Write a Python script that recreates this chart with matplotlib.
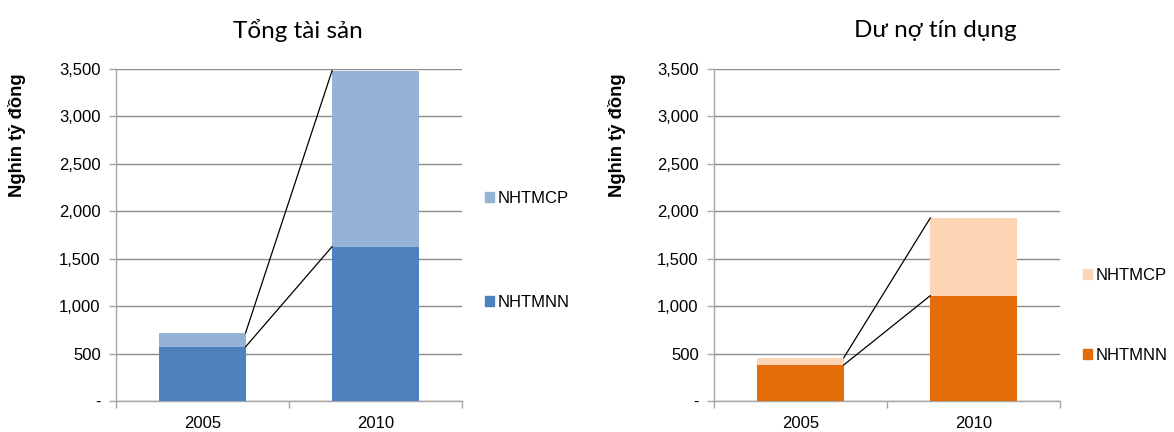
import numpy as np
import matplotlib
matplotlib.use("Agg")
import matplotlib.pyplot as plt
from matplotlib.ticker import FuncFormatter
from matplotlib.patches import Patch

plt.rcParams['font.family'] = ['Liberation Sans', 'DejaVu Sans']

years = ['2005', '2010']
series = ['NHTMNN', 'NHTMCP']

# Tổng tài sản (nghìn tỷ đồng)
assets_nn = [572, 1627]
assets_cp = [148, 1855]

# Dư nợ tín dụng (nghìn tỷ đồng)
credit_nn = [380, 1110]
credit_cp = [76, 819]

titles = ['Tổng tài sản', 'Dư nợ tín dụng']
ylabel = 'Nghin tỷ đồng'

blue = ['#4F81BD', '#95B3D7']
orange = ['#E36C09', '#FCD5B5']

FS = 12


def fmt(v, pos):
    return '-' if v == 0 else f'{int(v):,}'


def draw_panel(ax, nn, cp, colors):
    x = np.arange(len(years))
    w = 0.5
    ax.bar(x, nn, w, color=colors[0], zorder=3)
    ax.bar(x, cp, w, bottom=nn, color=colors[1], zorder=3)
    # series lines between stacks
    tot = np.array(nn) + np.array(cp)
    for lev in (np.array(nn), tot):
        ax.plot([x[0] + w / 2, x[1] - w / 2], [lev[0], lev[1]],
                color='black', lw=0.9, zorder=4)
    ax.set_xlim(-0.5, 1.5)
    ax.set_ylim(0, 3500)
    ax.set_yticks(np.arange(0, 3501, 500))
    ax.yaxis.set_major_formatter(FuncFormatter(fmt))
    ax.set_xticks(x)
    ax.set_xticklabels(years)
    ax.set_xticks([-0.5, 0.5, 1.5], minor=True)
    ax.tick_params(axis='x', which='major', length=0, pad=11, labelsize=FS)
    ax.tick_params(axis='x', which='minor', length=5, color='#A6A6A6', width=1)
    ax.tick_params(axis='y', length=5, color='#A6A6A6', width=1, pad=6, labelsize=FS)
    ax.grid(axis='y', color='#8C8C8C', lw=1, zorder=0)
    for s in ('top', 'right'):
        ax.spines[s].set_visible(False)
    for s in ('left', 'bottom'):
        ax.spines[s].set_color('#A6A6A6')
        ax.spines[s].set_linewidth(1)
    ax.set_ylabel(ylabel, fontweight='bold', fontsize=13.2)


fig = plt.figure(figsize=(11.74, 4.32), dpi=100)
ax1 = fig.add_axes([0.0988, 0.0718, 0.2945, 0.7685])
ax2 = fig.add_axes([0.6082, 0.0718, 0.2947, 0.7685])

draw_panel(ax1, assets_nn, assets_cp, blue)
draw_panel(ax2, credit_nn, credit_cp, orange)
ax1.yaxis.set_label_coords(-0.26, 0.80)
ax2.yaxis.set_label_coords(-0.255, 0.80)

fig.text(0.254, 0.930, titles[0], ha='center', va='center', fontsize=17.5,
         family=['Lato', 'DejaVu Sans'])
fig.text(0.797, 0.930, titles[1], ha='center', va='center', fontsize=17.5,
         family=['Lato', 'DejaVu Sans'])

# legends
for fx, fy, cols, sp in ((0.413, 0.420, blue, 5.37), (0.9225, 0.270, orange, 3.94)):
    handles = [Patch(color=cols[1], label=series[1]),
               Patch(color=cols[0], label=series[0])]
    fig.legend(handles=handles, loc='center left', bbox_to_anchor=(fx, fy),
               frameon=False, fontsize=FS, handlelength=0.55, handleheight=0.55,
               handletextpad=0.2, labelspacing=sp, borderpad=0, borderaxespad=0)

fig.savefig('out.png', dpi=100)
